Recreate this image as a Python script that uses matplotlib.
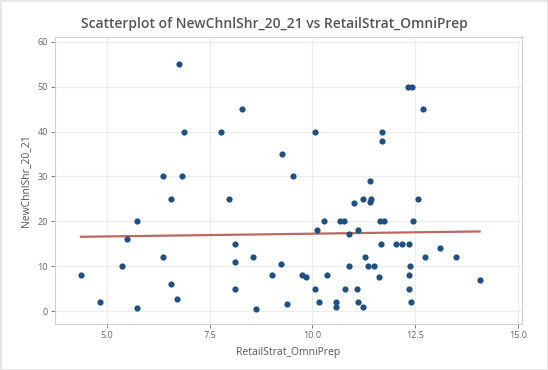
import numpy as np
import matplotlib
matplotlib.use("Agg")
import matplotlib.pyplot as plt

title = "Scatterplot of NewChnlShr_20_21 vs RetailStrat_OmniPrep"
x_label = "RetailStrat_OmniPrep"
y_label = "NewChnlShr_20_21"

retail_strat = [
    6.75, 8.29, 6.87, 7.76, 9.26, 6.35, 6.82,
    12.33, 12.42, 12.69, 10.07, 11.69, 11.69, 9.52, 11.41,
    6.55, 7.96, 5.72, 5.48, 8.12, 4.36, 5.37, 6.37, 8.11, 8.54, 9.23, 9.02,
    8.11, 6.56, 4.83, 6.71, 5.72, 8.63, 9.39,
    11.02, 11.22, 11.42, 11.40, 12.56,
    10.29, 10.67, 10.77, 11.65, 11.75, 12.44,
    10.11, 11.12, 10.90,
    11.67, 12.03, 12.18, 12.35, 13.11, 12.74, 13.50, 11.29,
    10.90, 11.34, 11.51, 12.37,
    9.75, 9.83, 10.35, 11.63, 12.35, 14.07,
    10.07, 10.79, 11.08, 12.34,
    10.15, 10.58, 10.58, 11.10, 11.24, 12.39,
]
new_chnl_shr = [
    55, 45, 40, 40, 35, 30, 30,
    50, 50, 45, 40, 40, 38, 30, 29,
    25, 25, 20, 16, 15, 8, 10, 12, 11, 12, 10.5, 8,
    5, 6, 2, 2.6, 0.7, 0.5, 1.6,
    24, 25, 25, 24.2, 25,
    20, 20, 20, 20, 20, 20,
    18, 18, 17.2,
    15, 15, 15, 15, 14, 12, 12, 12,
    10, 10, 10, 10,
    8, 7.5, 8, 7.5, 8, 7,
    5, 5, 5, 5,
    2, 2, 1, 2, 1, 2,
]

x = np.array(retail_strat)
y = np.array(new_chnl_shr)

plt.rcParams['font.family'] = ['Open Sans', 'DejaVu Sans']

fig = plt.figure(figsize=(5.48, 3.70), dpi=100)
fig.patch.set_facecolor('white')
fig.patch.set_edgecolor('#e6e6e6')
fig.patch.set_linewidth(2)
ax = fig.add_axes([0.1004, 0.1243, 0.852, 0.7757])

ax.scatter(x, y, s=20, color='#1f4f85', zorder=3, linewidths=0)

coef = np.polyfit(x, y, 1)
xs = np.array([x.min(), x.max()])
ax.plot(xs, np.polyval(coef, xs), color='#b86a63', linewidth=1.6, zorder=2)

ax.set_xlim(3.73, 15.1)
ax.set_ylim(-2.9, 61.1)
ax.set_xticks([5.0, 7.5, 10.0, 12.5, 15.0])
ax.set_xticklabels(['5.0', '7.5', '10.0', '12.5', '15.0'])
ax.set_yticks([0, 10, 20, 30, 40, 50, 60])

ax.grid(True, color='#ececec', linewidth=0.8)
ax.set_axisbelow(True)
for s in ax.spines.values():
    s.set_color('#cfcfcf')
    s.set_linewidth(0.8)
ax.tick_params(axis='both', colors='#666666', labelsize=6.5, length=3, width=0.6, pad=2)

ax.set_xlabel(x_label, fontsize=7.5, color='#555555', labelpad=5)
ax.set_ylabel(y_label, fontsize=7.5, color='#555555', labelpad=5)
fig.text(0.5, 0.935, title, ha='center', va='center', fontsize=10,
         fontweight='semibold', color='#555555')

fig.savefig('out.png', dpi=100)
